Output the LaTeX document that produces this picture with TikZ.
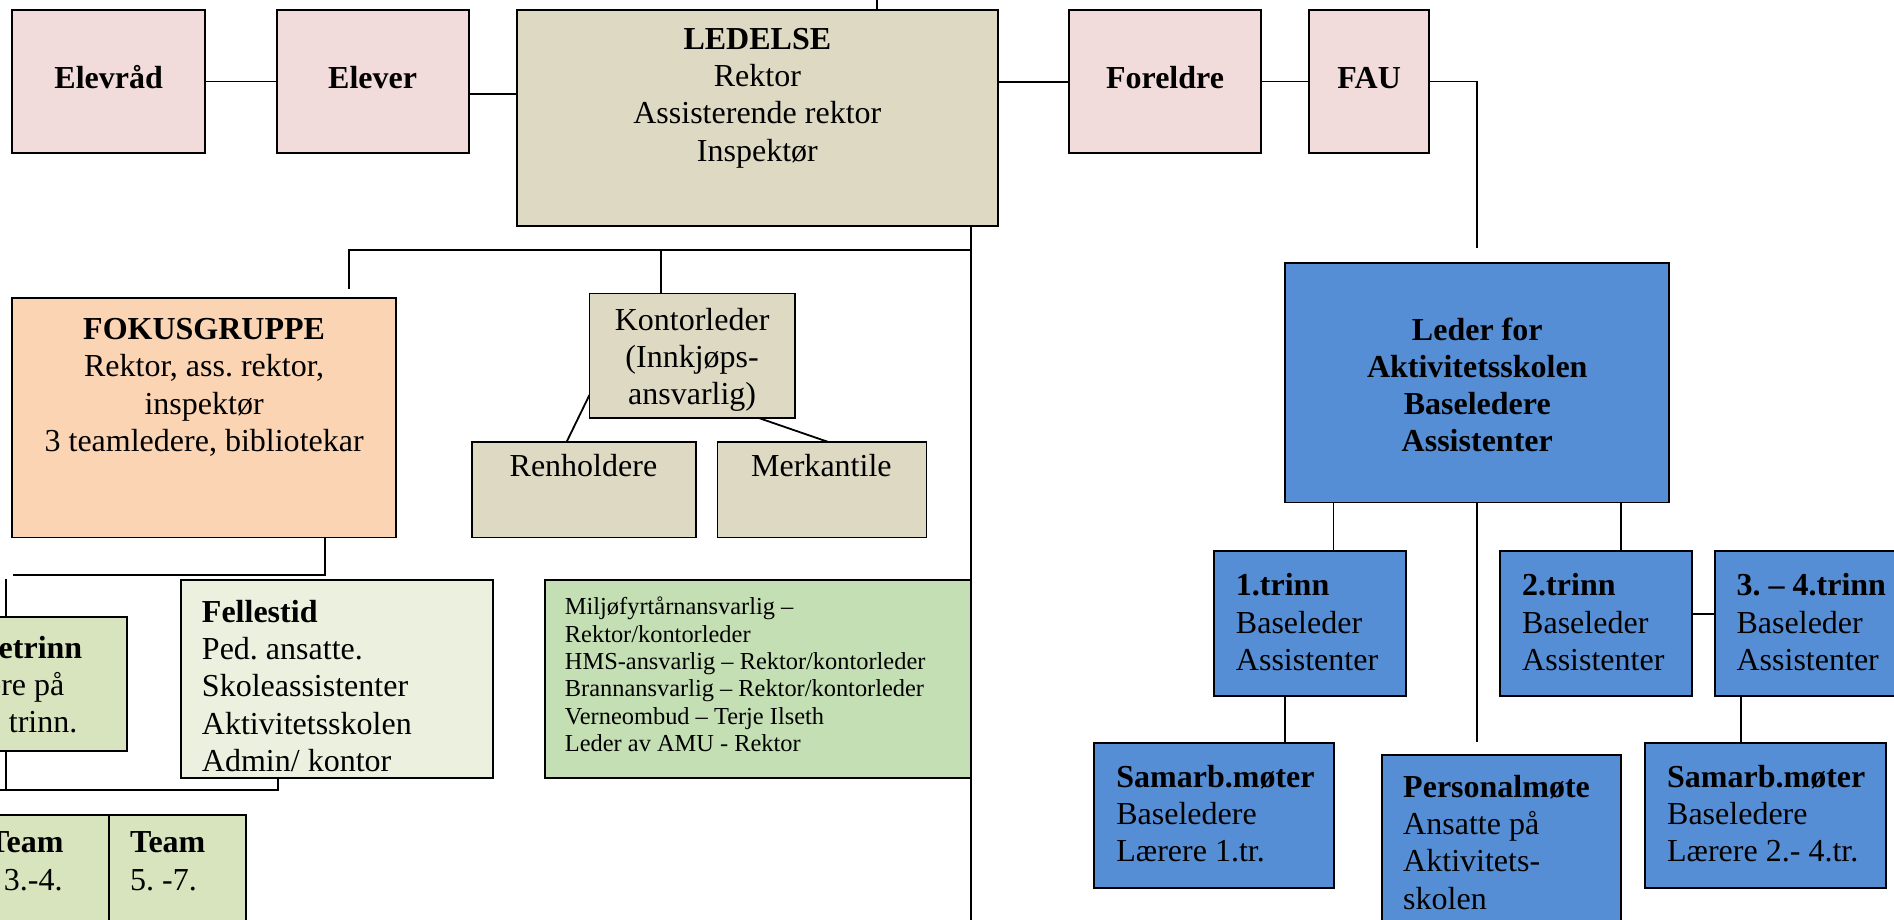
\documentclass[tikz,border=0pt]{standalone}
\usepackage{fontspec}
\setmainfont{Liberation Serif}
\usetikzlibrary{backgrounds}
\frenchspacing
\definecolor{pinkc}{HTML}{F2DCDB}
\definecolor{tanc}{HTML}{DDD9C3}
\definecolor{peachc}{HTML}{FBD4B4}
\definecolor{lgreen}{HTML}{EBF1DE}
\definecolor{mgreen}{HTML}{C4DFB3}
\definecolor{olivec}{HTML}{D7E4BD}
\definecolor{bluec}{HTML}{558ED5}
\newcommand\fsN{\fontsize{26.5}{30.7}\selectfont}
\newcommand\fsS{\fontsize{20.2}{22.7}\selectfont}
\tikzset{
  bx/.style={draw, line width=1.6pt, inner sep=0pt, outer sep=0pt, anchor=north west, rectangle},
  ln/.style={line width=1.5pt},
  tc/.style={inner sep=0pt, anchor=north, align=center, font=\fsN},
  tl/.style={inner sep=0pt, anchor=north west, align=left, font=\fsN},
  t1/.style={inner sep=0pt, anchor=base, font=\fsN\bfseries},
}
\begin{document}
\begin{tikzpicture}[x=1pt,y=-1pt]
\useasboundingbox (0,0) rectangle (1568,761.6);
\clip (0,0) rectangle (1568,761.6);
% boxes
\node[bx, fill=pinkc, minimum width=160pt, minimum height=119pt] (elevrad) at (10,8) {};
\node[bx, fill=pinkc, minimum width=159pt, minimum height=119pt] (elever) at (229,8) {};
\node[bx, fill=tanc, minimum width=398pt, minimum height=179pt] (ledelse) at (428,8) {};
\node[bx, fill=pinkc, minimum width=159pt, minimum height=119pt] (foreldre) at (885,8) {};
\node[bx, fill=pinkc, minimum width=99pt, minimum height=119pt] (fau) at (1084,8) {};
\node[bx, fill=peachc, minimum width=318pt, minimum height=198pt] (fokus) at (10,247) {};
\node[bx, fill=tanc, minimum width=170pt, minimum height=103pt] (kontor) at (488,243) {};
\node[bx, fill=tanc, minimum width=185pt, minimum height=79pt] (renhold) at (391,366) {};
\node[bx, fill=tanc, minimum width=173pt, minimum height=79pt] (merkant) at (594,366) {};
\node[bx, fill=olivec, minimum width=220pt, minimum height=111pt] (smaa) at (-115,511) {};
\node[bx, fill=lgreen, minimum width=258pt, minimum height=164pt] (fellestid) at (150,480) {};
\node[bx, fill=mgreen, minimum width=353pt, minimum height=164pt] (miljo) at (451,480) {};
\node[bx, fill=olivec, minimum width=121pt, minimum height=115pt] (team1) at (-31,675) {};
\node[bx, fill=olivec, minimum width=114pt, minimum height=115pt] (team2) at (90,675) {};
\node[bx, fill=bluec, minimum width=318pt, minimum height=198pt] (leder) at (1064,218) {};
\node[bx, fill=bluec, minimum width=159pt, minimum height=120pt] (trinn1) at (1005,456) {};
\node[bx, fill=bluec, minimum width=159pt, minimum height=120pt] (trinn2) at (1242,456) {};
\node[bx, fill=bluec, minimum width=170pt, minimum height=120pt] (trinn34) at (1420,456) {};
\node[bx, fill=bluec, minimum width=198pt, minimum height=120pt] (samarb1) at (906,615) {};
\node[bx, fill=bluec, minimum width=198pt, minimum height=175pt] (personal) at (1144,625) {};
\node[bx, fill=bluec, minimum width=199pt, minimum height=120pt] (samarb2) at (1362,615) {};
% connectors
\begin{pgfonlayer}{background}
\fill[white] (0,0) rectangle (1568,761.6);
\coordinate (topend) at (726,-5);
\coordinate (busend) at (804,790);
\coordinate (j1) at (804,207);
\coordinate (j2) at (547,207);
\draw[ln] (ledelse.north -| topend) -- (topend);
\draw[ln] (elevrad.east) -- (elever.west);
\draw[ln] (elever.east |- 0,78) -- (ledelse.west |- 0,78);
\draw[ln] (ledelse.east |- 0,68) -- (foreldre.west |- 0,68);
\draw[ln] (foreldre.east) -- (fau.west);
\draw[ln, shorten >=13pt] (fau.east) -| (leder.north);
\draw[ln] (ledelse.south -| busend) -- (busend);
\draw[ln, shorten >=8pt] (j1) -- (289,207) -- (fokus.north -| 289,0);
\draw[ln] (j2) -- (kontor.north -| j2);
\draw[ln] (kontor.west |- 0,327) -- (renhold.north -| 469,0);
\draw[ln] (kontor.south -| 628,0) -- (merkant.north -| 686,0);
\draw[ln] (fokus.south -| 269,0) -- (269,476) -- (11,476);
\draw[ln] (5,479) -- (5,654);
\draw[ln] (-10,654) -- (230,654) -- (fellestid.south -| 230,0);
\draw[ln] (leder.south -| 1104,0) -- (trinn1.north -| 1104,0);
\draw[ln] (leder.south -| 1342,0) -- (trinn2.north -| 1342,0);
\draw[ln, shorten >=11pt] (leder.south -| 1223,0) -- (personal.north -| 1223,0);
\draw[ln] (trinn2.east |- 0,508) -- (trinn34.west |- 0,508);
\draw[ln] (trinn1.south -| 1064,0) -- (samarb1.north -| 1064,0);
\draw[ln] (trinn34.south -| 1441,0) -- (samarb2.north -| 1441,0);
\end{pgfonlayer}
% texts
\node[t1] (elevrad-t) at (90,73) {Elevråd};
\node[t1] (elever-t) at (308.5,73) {Elever};
\node[t1] (foreldre-t) at (964.5,73) {Foreldre};
\node[t1] (fau-t) at (1133.5,73) {FAU};
\node[tc] (ledelse-t) at (627,23.5) {\textbf{LEDELSE}\\Rektor\\Assisterende rektor\\Inspektør};
\node[tc] (fokus-t) at (169,263.6) {\textbf{FOKUSGRUPPE}\\Rektor, ass. rektor,\\inspektør\\3 teamledere, bibliotekar};
\node[tc] (kontor-t) at (573,255) {Kontorleder\\(Innkjøps-\\ansvarlig)};
\node[inner sep=0pt, anchor=base, font=\fsN] (renhold-t) at (483,394.5) {Renholdere};
\node[inner sep=0pt, anchor=base, font=\fsN] (merkant-t) at (680,394.5) {Merkantile};
\node[tl] (smaa-t) at (-97,525.7) {\textbf{Småskoletrinn}\\Alle lærere på\\\hspace*{49pt}1.-4. trinn.};
\node[tl] (fellestid-t) at (167,497) {\textbf{Fellestid}\\Ped. ansatte.\\Skoleassistenter\\Aktivitetsskolen\\Admin/ kontor};
\node[tl, font=\fsS] (miljo-t) at (467.5,494) {Miljøfyrtårnansvarlig –\\Rektor/kontorleder\\HMS-ansvarlig – Rektor/kontorleder\\Brannansvarlig – Rektor/kontorleder\\Verneombud – Terje Ilseth\\Leder av AMU - Rektor};
\node[tl] (team1-t) at (-10,688.6) {\textbf{Team}\\\hspace*{13pt}3.-4.};
\node[tl] (team2-t) at (107.5,688.6) {\textbf{Team}\\5. -7.};
\node[tc, font=\fsN\bfseries] (leder-t) at (1223,263) {Leder for\\Aktivitetsskolen\\Baseledere\\Assistenter};
\node[tl] (trinn1-t) at (1023,474.8) {\textbf{1.trinn}\\Baseleder\\Assistenter};
\node[tl] (trinn2-t) at (1260,474.8) {\textbf{2.trinn}\\Baseleder\\Assistenter};
\node[tl] (trinn34-t) at (1437.5,474.8) {\textbf{3. – 4.trinn}\\Baseleder\\Assistenter};
\node[tl] (samarb1-t) at (924,633.6) {\textbf{Samarb.møter}\\Baseledere\\Lærere 1.tr.};
\node[tl] (personal-t) at (1161.5,641.9) {\textbf{Personalmøte}\\Ansatte på\\Aktivitets-\\skolen};
\node[tl] (samarb2-t) at (1380,633.6) {\textbf{Samarb.møter}\\Baseledere\\Lærere 2.- 4.tr.};
\end{tikzpicture}
\end{document}
